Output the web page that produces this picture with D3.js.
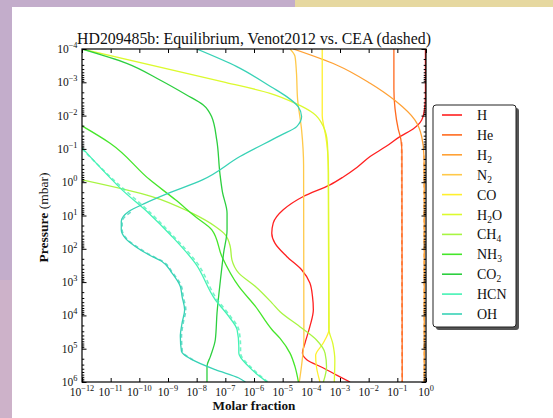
<!DOCTYPE html>
<html lang="en">
<head>
<meta charset="UTF-8" />
<title>HD209485b: Equilibrium, Venot2012 vs. CEA</title>
<script src="https://d3js.org/d3.v7.min.js"></script>
<style>
  body { margin: 0; background: #fff; }
  svg { display: block; }
  text { font-family: "Liberation Serif", "Times New Roman", serif; fill: #111; }
</style>
</head>
<body>
<svg id="chart" width="553" height="418"></svg>
<script>
// every point is [log10(molar fraction), log10(pressure / mbar)]
const species = ["H", "He", "H_2", "N_2", "CO", "H_2O", "CH_4", "NH_3", "CO_2", "HCN", "OH"];
const colors = ["#ff2020", "#ff6a1f", "#ffa135", "#ffc94a", "#fff02e", "#dcfa2e",
                "#a8f542", "#45e62a", "#2ccf3f", "#45f2b5", "#38d2b6"];

const hVenot = [[-0.02,-4],[-0.02,-2.6],[-0.05,-2.2],[-0.15,-1.87],[-0.45,-1.6],[-0.91,-1.37],
  [-1.4,-1.07],[-1.95,-0.77],[-2.4,-0.45],[-2.9,-0.15],[-3.35,0.08],[-4.28,0.43],[-4.98,0.83],
  [-5.33,1.23],[-5.38,1.53],[-5.27,1.83],[-4.86,2.23],[-4.34,2.63],[-4.05,3.03],[-3.96,3.43],
  [-3.93,3.83],[-4.05,4.33],[-4.22,4.83],[-4.31,5.13],[-4.16,5.33],[-3.58,5.58],[-3.1,5.8],[-2.65,6]];
const heVenot = [[-1.12,-4],[-1.12,-2.8],[-1.08,-2.2],[-0.97,-1.6],[-0.88,-1.3],[-0.84,-0.9],[-0.83,6]];
const h2Venot = [[-4.63,-4],[-3.12,-3.52],[-1.95,-2.97],[-1.08,-2.45],[-0.39,-1.87],[-0.15,-1.37],
  [-0.07,-0.77],[-0.06,0],[-0.06,6]];
const n2Venot = [[-4.74,-4],[-4.57,-3.78],[-4.52,-3.3],[-4.48,-2.5],[-4.34,-1.57],[-4.27,-0.5],
  [-4.26,4.7],[-4.34,5.5],[-4.42,6]];
const coVenot = [[-3.62,-4],[-3.62,-2.0],[-3.57,-1.7],[-3.5,-1.4],[-3.43,-0.9],[-3.4,-0.3],
  [-3.38,4.4],[-3.6,4.85],[-3.85,5.2],[-3.82,5.55],[-3.7,6]];
const h2oVenot = [[-12,-4],[-7,-3.0],[-5.44,-2.67],[-4.51,-2.35],[-3.93,-2.07],[-3.58,-1.67],
  [-3.44,-1.17],[-3.41,-0.3],[-3.39,4.4],[-3.25,4.85],[-3.18,5.35],[-3.2,6]];
const ch4Venot = [[-12,-0.07],[-9.56,0.43],[-8.16,0.93],[-7.35,1.33],[-7.0,1.58],[-6.83,1.93],
  [-6.77,2.33],[-6.53,2.73],[-5.95,3.13],[-5.37,3.63],[-5.09,3.89],[-4.4,4.34],[-3.82,4.74],
  [-3.52,5.14],[-3.47,5.54],[-3.58,6]];
const nh3Venot = [[-12,-1.69],[-11.02,-1.17],[-9.63,-0.07],[-8.74,0.53],[-8.05,1.03],[-7.47,1.43],
  [-7.12,2.23],[-6.53,3.13],[-5.95,3.73],[-5.37,4.43],[-5.09,4.69],[-4.74,5.14],[-4.57,5.54],[-4.45,6]];
const co2Venot = [[-12,-4],[-10.44,-3.57],[-9.28,-3.07],[-8.35,-2.62],[-7.77,-2.32],[-7.48,-1.97],
  [-7.3,-1.27],[-7.19,-0.27],[-7.1,0.3],[-6.94,0.93],[-6.94,1.43],[-7.06,2.13],[-7.17,2.93],
  [-7.29,3.93],[-7.35,4.73],[-7.52,5.23],[-7.64,5.53],[-7.64,6]];
const hcnVenot = [[-12,-1.03],[-10.95,-0.07],[-10.6,0.23],[-9.67,0.93],[-8.86,1.63],[-8.05,2.43],
  [-7.35,3.53],[-6.88,4.03],[-6.59,4.43],[-6.53,4.93],[-6.53,5.13],[-6.19,5.53],[-5.85,5.8],[-5.55,6]];
const ohVenot = [[-8.0,-4],[-6.6,-3.47],[-5.38,-2.85],[-4.86,-2.57],[-4.46,-2.27],[-4.34,-1.97],
  [-4.51,-1.67],[-5.09,-1.4],[-6.49,-0.77],[-7.8,-0.07],[-8.98,0.33],[-9.79,0.63],[-10.37,0.88],
  [-10.63,1.18],[-10.63,1.43],[-10.49,1.68],[-10.14,1.93],[-9.67,2.18],[-9.21,2.38],[-8.86,2.73],
  [-8.57,3.13],[-8.51,3.43],[-8.42,3.83],[-8.51,4.23],[-8.57,4.63],[-8.53,5.08],[-8.16,5.33],
  [-7.35,5.63],[-6.53,5.88],[-6.3,6]];

// CEA curves (dashed), only where they show beside the Venot2012 ones
const heCea = [[-0.85,-1.2],[-0.83,6]];
const h2Cea = [[-0.07,-0.8],[-0.06,6]];
const hcnCea = [[-12,-1.0],[-10.9,-0.07],[-9.6,0.93],[-8.8,1.63],[-7.98,2.43],[-7.28,3.53],
  [-6.82,4.03],[-6.53,4.43],[-6.47,4.93],[-6.47,5.13],[-6.14,5.53],[-5.8,5.8],[-5.52,6]];
const ohCea = [[-10.3,0.9],[-10.6,1.18],[-10.6,1.43],[-10.46,1.68],[-10.1,1.93],[-9.63,2.18],
  [-9.18,2.38],[-8.83,2.73],[-8.53,3.13],[-8.47,3.43],[-8.38,3.83],[-8.47,4.23],[-8.53,4.63],
  [-8.5,5.08],[-8.13,5.33]];

const venot = [hVenot, heVenot, h2Venot, n2Venot, coVenot, h2oVenot, ch4Venot,
               nh3Venot, co2Venot, hcnVenot, ohVenot];
const cea = [[1, heCea], [2, h2Cea], [9, hcnCea], [10, ohCea]];

const xExponents = d3.range(-12, 1);
const yExponents = d3.range(-4, 7);

const svg = d3.select("#chart");
const plotLeft = 82, plotRight = 426, plotTop = 49, plotBottom = 382;

// page background around the white figure
svg.append("rect").attr("width", 553).attr("height", 418).attr("fill", "#c3adcb");
svg.append("rect").attr("x", 0).attr("y", 280).attr("width", 12).attr("height", 138).attr("fill", "#cdb2c9");
svg.append("rect").attr("x", 295).attr("y", 0).attr("width", 258).attr("height", 7).attr("fill", "#e6d8a0");
svg.append("rect").attr("x", 12).attr("y", 7).attr("width", 541).attr("height", 411).attr("fill", "#fff");

const x = d3.scaleLog().domain([1e-12, 1]).range([plotLeft, plotRight]);
const y = d3.scaleLog().domain([1e-4, 1e6]).range([plotTop, plotBottom]);

svg.append("defs").append("clipPath").attr("id", "plotclip")
  .append("rect").attr("x", plotLeft).attr("y", plotTop)
  .attr("width", plotRight - plotLeft).attr("height", plotBottom - plotTop);

const line = d3.line()
  .x((d) => x(Math.pow(10, d[0])))
  .y((d) => y(Math.pow(10, d[1])))
  .curve(d3.curveMonotoneY);

const plot = svg.append("g").attr("clip-path", "url(#plotclip)");

plot.selectAll(".venot")
  .data(venot)
  .enter()
  .append("path")
  .attr("d", line)
  .attr("fill", "none")
  .attr("stroke", (d, i) => colors[i])
  .attr("stroke-width", 1.3);

plot.selectAll(".cea")
  .data(cea)
  .enter()
  .append("path")
  .attr("d", (d) => line(d[1]))
  .attr("fill", "none")
  .attr("stroke", (d) => colors[d[0]])
  .attr("stroke-opacity", 0.75)
  .attr("stroke-width", 1.6)
  .attr("stroke-dasharray", "4,3");

// frame and inward ticks
const pow = (e) => Math.pow(10, e);
const yMinor = [];
yExponents.slice(0, -1).forEach((e) => d3.range(2, 10).forEach((m) => yMinor.push(m * pow(e))));

function ticks(axis, values, size, transform) {
  const g = svg.append("g").attr("transform", transform)
    .call(axis.tickValues(values).tickSize(size).tickFormat(""));
  g.select(".domain").remove();
  g.selectAll("line").attr("stroke", "#000").attr("stroke-width", 1);
}
ticks(d3.axisBottom(x), xExponents.map(pow), -4, `translate(0,${plotBottom})`);
ticks(d3.axisTop(x), xExponents.map(pow), -4, `translate(0,${plotTop})`);
ticks(d3.axisLeft(y), yExponents.map(pow), -4.5, `translate(${plotLeft},0)`);
ticks(d3.axisRight(y), yExponents.map(pow), -4.5, `translate(${plotRight},0)`);
ticks(d3.axisLeft(y), yMinor, -2.3, `translate(${plotLeft},0)`);
ticks(d3.axisRight(y), yMinor, -2.3, `translate(${plotRight},0)`);

svg.append("rect")
  .attr("x", plotLeft).attr("y", plotTop)
  .attr("width", plotRight - plotLeft).attr("height", plotBottom - plotTop)
  .attr("fill", "none").attr("stroke", "#000").attr("stroke-width", 1.2);

const expText = (e) => (e < 0 ? "\u2212" + -e : String(e));

svg.append("g").selectAll("text")
  .data(xExponents)
  .enter()
  .append("text")
  .attr("x", (e) => x(pow(e)))
  .attr("y", 396)
  .attr("text-anchor", "middle")
  .attr("font-size", 11.5)
  .each(function (e) {
    const t = d3.select(this);
    t.append("tspan").text("10");
    t.append("tspan").attr("dy", -5).attr("font-size", 8.3).text(expText(e));
  });

svg.append("g").selectAll("text")
  .data(yExponents)
  .enter()
  .append("text")
  .attr("x", 77.5)
  .attr("y", (e) => y(pow(e)) + 4)
  .attr("text-anchor", "end")
  .attr("font-size", 11.5)
  .each(function (e) {
    const t = d3.select(this);
    t.append("tspan").text("10");
    t.append("tspan").attr("dy", -5).attr("font-size", 8.3).text(expText(e));
  });

svg.append("text")
  .attr("x", (plotLeft + plotRight) / 2)
  .attr("y", 44)
  .attr("text-anchor", "middle")
  .attr("font-size", 15.8)
  .text("HD209485b: Equilibrium, Venot2012 vs. CEA (dashed)");

svg.append("text")
  .attr("x", (plotLeft + plotRight) / 2)
  .attr("y", 410)
  .attr("text-anchor", "middle")
  .attr("font-size", 13.2)
  .attr("font-weight", "bold")
  .text("Molar fraction");

const ylab = svg.append("text")
  .attr("transform", `translate(48,${(plotTop + plotBottom) / 2 + 2}) rotate(-90)`)
  .attr("text-anchor", "middle")
  .attr("font-size", 13.5);
ylab.append("tspan").attr("font-weight", "bold").text("Pressure");
ylab.append("tspan").text(" (mbar)");

// legend
const legend = svg.append("g").attr("transform", "translate(433,105)");
legend.append("rect").attr("x", 3).attr("y", 3).attr("width", 83).attr("height", 222)
  .attr("rx", 3).attr("fill", "#555");
legend.append("rect").attr("x", 0).attr("y", 0).attr("width", 83).attr("height", 222)
  .attr("rx", 3).attr("fill", "#fff").attr("stroke", "#222").attr("stroke-width", 1);

const rows = legend.selectAll(".row")
  .data(species)
  .enter()
  .append("g")
  .attr("transform", (d, i) => `translate(0,${10 + i * 19.9})`);

rows.append("line")
  .attr("x1", 9).attr("x2", 29)
  .attr("stroke", (d, i) => colors[i])
  .attr("stroke-width", 1.6);

rows.append("text")
  .attr("x", 44)
  .attr("y", 5)
  .attr("font-size", 14)
  .each(function (name) {
    const t = d3.select(this);
    const parts = name.split("_");
    t.append("tspan").text(parts[0]);
    parts.slice(1).forEach((p) => {
      t.append("tspan").attr("dy", 3).attr("font-size", 9.5).text(p[0]);
      if (p.length > 1) t.append("tspan").attr("dy", -3).text(p.slice(1));
    });
  });
</script>
</body>
</html>
